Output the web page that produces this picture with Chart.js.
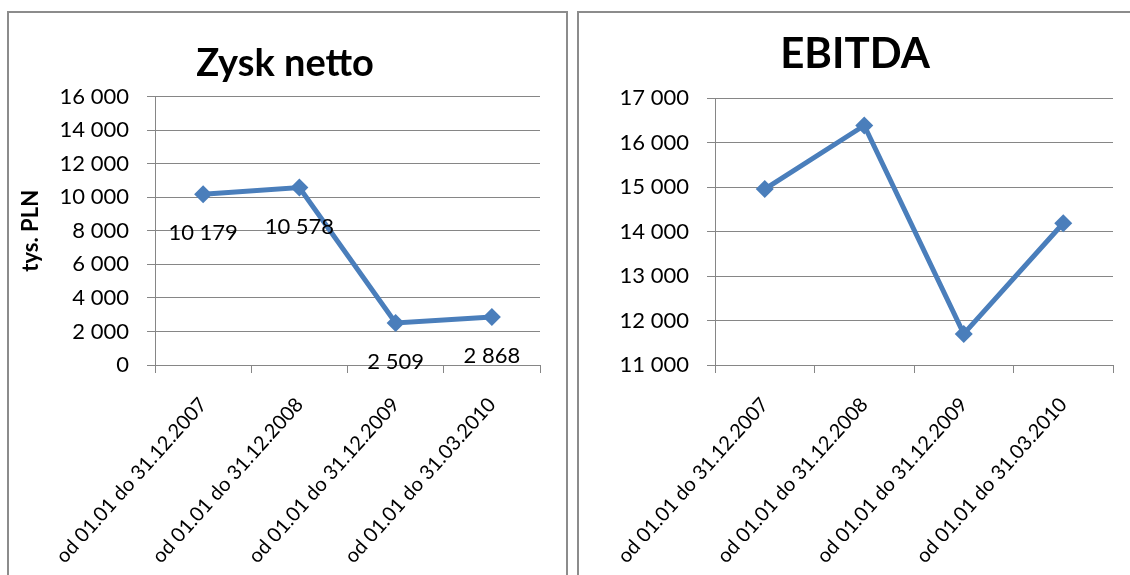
<!DOCTYPE html>
<html>
<head>
<meta charset="utf-8">
<script src="https://cdn.jsdelivr.net/npm/chart.js@4"></script>
<style>
  body { margin: 0; background: #fff; width: 1130px; height: 575px; overflow: hidden; position: relative; }
  .ramka { position: absolute; border: 2px solid #8c8c8c; box-sizing: border-box; }
  canvas { position: absolute; }
</style>
</head>
<body>
<div class="ramka" style="left:7px; top:11px; width:561px; height:580px;"></div>
<div class="ramka" style="left:577px; top:11px; width:560px; height:580px;"></div>
<canvas id="zyskChart" width="567" height="575" style="left:0; top:0;"></canvas>
<canvas id="ebitdaChart" width="553" height="575" style="left:577px; top:0;"></canvas>
<script>
// dane wykresów
const okresy = [
    'od 01.01 do 31.12.2007',
    'od 01.01 do 31.12.2008',
    'od 01.01 do 31.12.2009',
    'od 01.01 do 31.03.2010'
];
const zyskNetto = [10179, 10578, 2509, 2868];
const ebitda = [14960, 16390, 11700, 14190];

// zakresy osi Y: [min, max, krok]
const zyskOs = [0, 16000, 2000];
const ebitdaOs = [11000, 17000, 1000];

const NIEBIESKI = '#4a7ebb';
const SZARY = '#868686';

Chart.defaults.font.family = 'Lato';
Chart.defaults.color = '#000';

function formatLiczby(v) {
    return String(v).replace(/\B(?=(\d{3})+(?!\d))/g, ' ');
}

// etykiety danych pod punktami
const etykietyDanych = {
    id: 'etykietyDanych',
    afterDatasetsDraw(chart, args, opts) {
        if (!opts.display) return;
        const ctx = chart.ctx;
        const meta = chart.getDatasetMeta(0);
        ctx.save();
        ctx.font = '22px Lato';
        ctx.fillStyle = '#000';
        ctx.textAlign = 'center';
        ctx.textBaseline = 'middle';
        meta.data.forEach((pt, i) => {
            ctx.fillText(formatLiczby(chart.data.datasets[0].data[i]), pt.x, pt.y + 39);
        });
        ctx.restore();
    }
};

function buildConfig(dane, os, tytul) {
    return {
        type: 'line',
        data: {
            labels: okresy,
            datasets: [{
                data: dane,
                borderColor: NIEBIESKI,
                backgroundColor: NIEBIESKI,
                borderWidth: 5,
                pointStyle: 'rectRot',
                pointRadius: 9,
                pointBorderWidth: 0,
                tension: 0
            }]
        },
        options: {
            responsive: false,
            animation: false,
            layout: { padding: tytul.padding },
            plugins: {
                legend: { display: false },
                tooltip: { enabled: false },
                title: {
                    display: true,
                    text: tytul.text,
                    font: { size: tytul.size, weight: 'bold' },
                    padding: tytul.titlePadding
                },
                etykietyDanych: { display: tytul.labels }
            },
            scales: {
                x: {
                    offset: true,
                    grid: {
                        offset: true,
                        drawOnChartArea: false,
                        drawTicks: true,
                        tickLength: 8,
                        color: SZARY
                    },
                    border: { color: SZARY, width: 1 },
                    ticks: {
                        maxRotation: 48,
                        minRotation: 48,
                        padding: 20,
                        font: { size: 20 }
                    },
                    afterFit(scale) { scale.height = 210; }
                },
                y: {
                    min: os[0],
                    max: os[1],
                    grid: { color: SZARY, tickLength: 8 },
                    border: { color: SZARY, width: 1 },
                    ticks: {
                        stepSize: os[2],
                        padding: 18,
                        font: { size: 22 },
                        callback: v => formatLiczby(v)
                    },
                    title: tytul.yTitle,
                    afterFit(scale) { scale.width = tytul.yWidth; }
                }
            }
        },
        plugins: [etykietyDanych]
    };
}

new Chart(document.getElementById('zyskChart'), buildConfig(zyskNetto, zyskOs, {
    text: 'Zysk netto',
    size: 38,
    padding: { left: 30, right: 27, top: 0, bottom: 0 },
    titlePadding: { top: 41, bottom: 10 },
    labels: true,
    yWidth: 125,
    yTitle: {
        display: true,
        text: 'tys. PLN',
        font: { size: 22, weight: 'bold' },
        padding: { top: -12, bottom: 0 }
    }
}));

new Chart(document.getElementById('ebitdaChart'), buildConfig(ebitda, ebitdaOs, {
    text: 'EBITDA',
    size: 42,
    padding: { left: 20, right: 17, top: 0, bottom: 0 },
    titlePadding: { top: 29, bottom: 19 },
    labels: false,
    yWidth: 118,
    yTitle: { display: false }
}));
</script>
</body>
</html>
